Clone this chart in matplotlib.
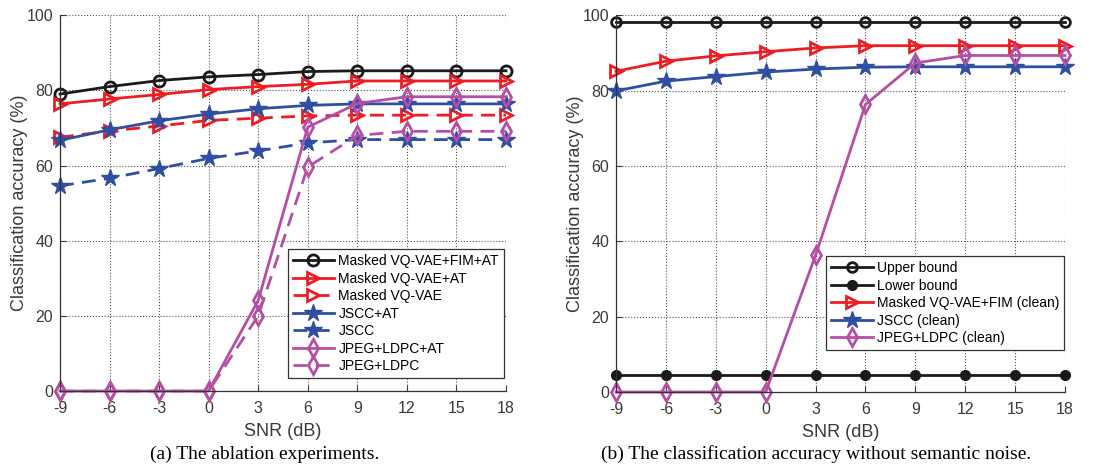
import matplotlib.pyplot as plt
import numpy as np

plt.rcParams['font.family'] = ['Liberation Sans', 'DejaVu Sans']
plt.rcParams['axes.unicode_minus'] = False

snr = [-9, -6, -3, 0, 3, 6, 9, 12, 15, 18]
xticks = [-9, -6, -3, 0, 3, 6, 9, 12, 15, 18]
yticks = [0, 20, 40, 60, 80, 100]

# (a) ablation
vq_fim_at = [79.0, 81.0, 82.6, 83.6, 84.2, 85.0, 85.2, 85.2, 85.2, 85.2]
vq_at = [76.4, 77.7, 78.9, 80.2, 81.0, 81.6, 82.5, 82.5, 82.5, 82.5]
vq = [67.5, 69.2, 70.5, 72.0, 72.6, 73.2, 73.4, 73.4, 73.4, 73.4]
jscc_at = [66.7, 69.5, 71.9, 73.7, 75.1, 76.0, 76.4, 76.4, 76.4, 76.4]
jscc = [54.6, 56.6, 59.2, 61.9, 63.9, 66.0, 66.9, 66.9, 66.9, 66.9]
jpeg_at = [0, 0, 0, 0, 24.1, 70.2, 76.5, 78.3, 78.3, 78.3]
jpeg = [0, 0, 0, 0, 20.0, 59.6, 68.0, 69.1, 69.1, 69.1]

# (b) clean
upper = [98.2] * 10
lower = [4.5] * 10
vq_clean = [85.1, 87.8, 89.2, 90.3, 91.3, 91.9, 91.9, 91.9, 91.9, 91.9]
jscc_clean = [79.9, 82.5, 83.7, 84.9, 85.7, 86.2, 86.3, 86.3, 86.3, 86.3]
jpeg_clean = [0, 0, 0, 0, 36.3, 76.3, 87.3, 89.3, 89.3, 89.3]

BLACK = '#1a1a1a'
RED = '#ee1d24'
BLUE = '#2f4fa2'
MAG = '#b54fa6'
TXT = '#3a3a3a'

fig = plt.figure(figsize=(11.04, 4.74), dpi=100)
ax1 = fig.add_axes([0.0543, 0.175, 0.404, 0.793])
ax2 = fig.add_axes([0.558, 0.173, 0.4067, 0.795])

lw = 2.0
ms = 8


def style(ax):
    ax.set_xlim(-9, 18)
    ax.set_ylim(0, 100)
    ax.set_xticks(xticks)
    ax.set_yticks(yticks)
    ax.grid(True, linestyle=':', color='#555555', linewidth=0.8)
    ax.set_axisbelow(True)
    for s in ['top', 'right']:
        ax.spines[s].set_visible(False)
    for s in ['left', 'bottom']:
        ax.spines[s].set_color('#333333')
        ax.spines[s].set_linewidth(0.9)
    ax.tick_params(direction='in', length=4, colors=TXT, labelsize=11.5,
                   width=0.8)
    ax.tick_params(axis='x', pad=7)
    ax.tick_params(axis='y', pad=5)
    ax.set_xlabel('SNR (dB)', fontsize=13, color=TXT, labelpad=5)
    ax.set_ylabel('Classification accuracy (%)', fontsize=13, color=TXT,
                  labelpad=-1)


def add_legend(ax, anchor, loc):
    leg = ax.legend(loc=loc, bbox_to_anchor=anchor, borderaxespad=0,
                    fontsize=10, handlelength=3.0, labelspacing=0.25,
                    borderpad=0.35, fancybox=False, framealpha=1,
                    edgecolor='#333333', handletextpad=0.3)
    leg.get_frame().set_linewidth(0.9)
    return leg


ax1.plot(snr, vq_fim_at, '-o', color=BLACK, lw=lw, ms=ms, mfc='none', mew=2,
         label='Masked VQ-VAE+FIM+AT', clip_on=False)
ax1.plot(snr, vq_at, '->', color=RED, lw=lw, ms=ms + 1, mfc='none', mew=2,
         label='Masked VQ-VAE+AT', clip_on=False)
ax1.plot(snr, vq, '-->', color=RED, lw=lw, ms=ms + 1, mfc='none', mew=2,
         label='Masked VQ-VAE', dashes=(5, 3), clip_on=False)
ax1.plot(snr, jscc_at, '-*', color=BLUE, lw=lw, ms=ms + 5,
         label='JSCC+AT', clip_on=False)
ax1.plot(snr, jscc, '--*', color=BLUE, lw=lw, ms=ms + 5,
         label='JSCC', dashes=(5, 3), clip_on=False)
ax1.plot(snr, jpeg_at, '-d', color=MAG, lw=lw, ms=ms + 1, mfc='none', mew=2,
         label='JPEG+LDPC+AT', clip_on=False)
ax1.plot(snr, jpeg, '--d', color=MAG, lw=lw, ms=ms + 1, mfc='none', mew=2,
         label='JPEG+LDPC', dashes=(5, 3), clip_on=False)
style(ax1)
add_legend(ax1, (0.995, 0.035), 'lower right')

ax2.plot(snr, upper, '-o', color=BLACK, lw=lw, ms=ms - 1, mfc='none', mew=2,
         label='Upper bound', clip_on=False)
ax2.plot(snr, lower, '-o', color=BLACK, lw=lw, ms=ms - 1,
         label='Lower bound', clip_on=False)
ax2.plot(snr, vq_clean, '->', color=RED, lw=lw, ms=ms + 1, mfc='none', mew=2,
         label='Masked VQ-VAE+FIM (clean)', clip_on=False)
ax2.plot(snr, jscc_clean, '-*', color=BLUE, lw=lw, ms=ms + 5,
         label='JSCC (clean)', clip_on=False)
ax2.plot(snr, jpeg_clean, '-d', color=MAG, lw=lw, ms=ms + 1, mfc='none',
         mew=2, label='JPEG+LDPC (clean)', clip_on=False)
style(ax2)
add_legend(ax2, (0.998, 0.36), 'upper right')

fig.text(0.24, 0.031, '(a) The ablation experiments.', ha='center',
         fontsize=14, family='Liberation Serif')
fig.text(0.739, 0.031, '(b) The classification accuracy without semantic noise.',
         ha='center', fontsize=14, family='Liberation Serif')

fig.savefig('out.png', dpi=100)
